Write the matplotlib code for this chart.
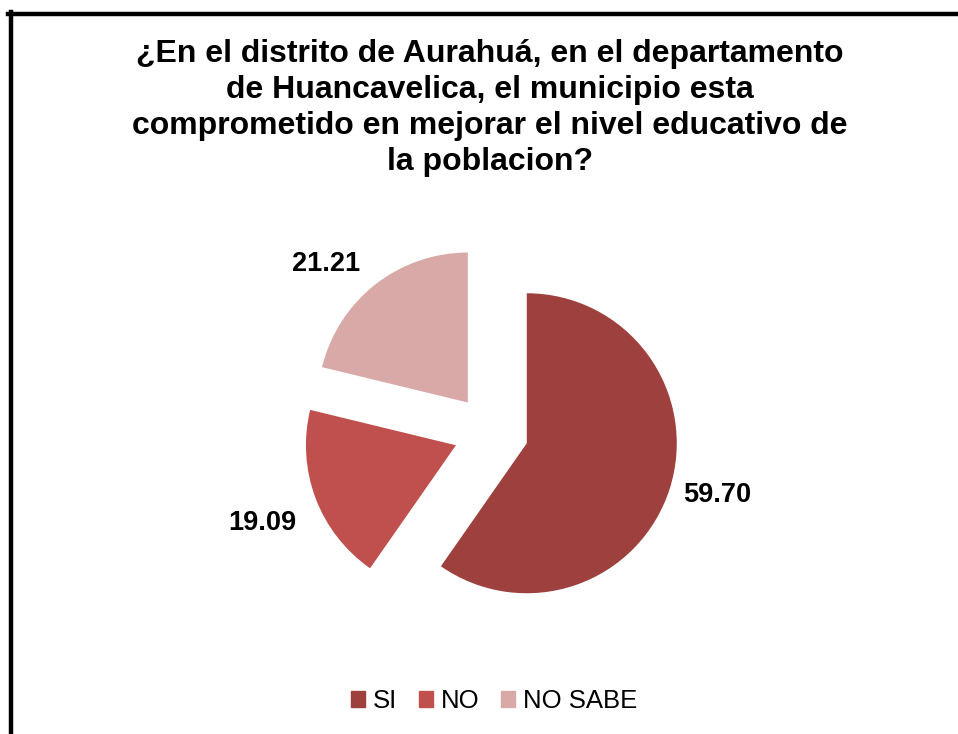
import matplotlib
matplotlib.use("Agg")
import matplotlib.pyplot as plt
from matplotlib.lines import Line2D

categories = ["SI", "NO", "NO SABE"]
values = [59.70, 19.09, 21.21]
value_labels = ["59.70", "19.09", "21.21"]
colors = ["#9E413E", "#C0504D", "#D9A9A8"]
title = ("¿En el distrito de Aurahuá, en el departamento\n"
         "de Huancavelica, el municipio esta\n"
         "comprometido en mejorar el nivel educativo de\n"
         "la poblacion?")

plt.rcParams['font.family'] = ['Liberation Sans', 'DejaVu Sans']

W, H = 958, 734
fig = plt.figure(figsize=(W / 100, H / 100), dpi=100)

# border (cropped box: top and left lines visible)
fig.add_artist(Line2D([10.5 / W, 10.5 / W], [0, 1 - 12 / H], color="black", lw=3.2))
fig.add_artist(Line2D([8 / W, 1], [1 - 14 / H, 1 - 14 / H], color="black", lw=3.2))

# pie axes: center (491, 432) px, radius 150 px
cx, cy, r = 491, 432, 150
L = 2.0
size = 2 * L * r
ax = fig.add_axes([(cx - size / 2) / W, (H - cy - size / 2) / H, size / W, size / H])
wedges, texts = ax.pie(values, colors=colors, startangle=90, counterclock=False,
                       explode=[0.25, 0.25, 0.25], labels=value_labels,
                       labeldistance=1.35,
                       textprops=dict(fontsize=19.5, fontweight="bold", color="black"))
nudges = [(-0.02, 0.06), (-0.03, -0.04), (-0.11, -0.14)]
for t, (dx, dy) in zip(texts, nudges):
    x, y = t.get_position()
    t.set_position((x + dx, y + dy))
    t.set_ha("center")
    t.set_va("center")
ax.set_xlim(-L, L)
ax.set_ylim(-L, L)
ax.set_aspect("equal")
ax.axis("off")

fig.text(490 / W, 1 - 108 / H, title, ha="center", va="center", fontsize=23,
         fontweight="bold", linespacing=1.26)

handles = [plt.Rectangle((0, 0), 1, 1, color=c) for c in colors]
fig.legend(handles, categories, loc="center", bbox_to_anchor=(494 / W, 1 - 701 / H),
           ncol=3, frameon=False, fontsize=18.5, handlelength=0.55, handleheight=0.55,
           handletextpad=0.3, columnspacing=0.85)

fig.savefig("out.png", dpi=100)
